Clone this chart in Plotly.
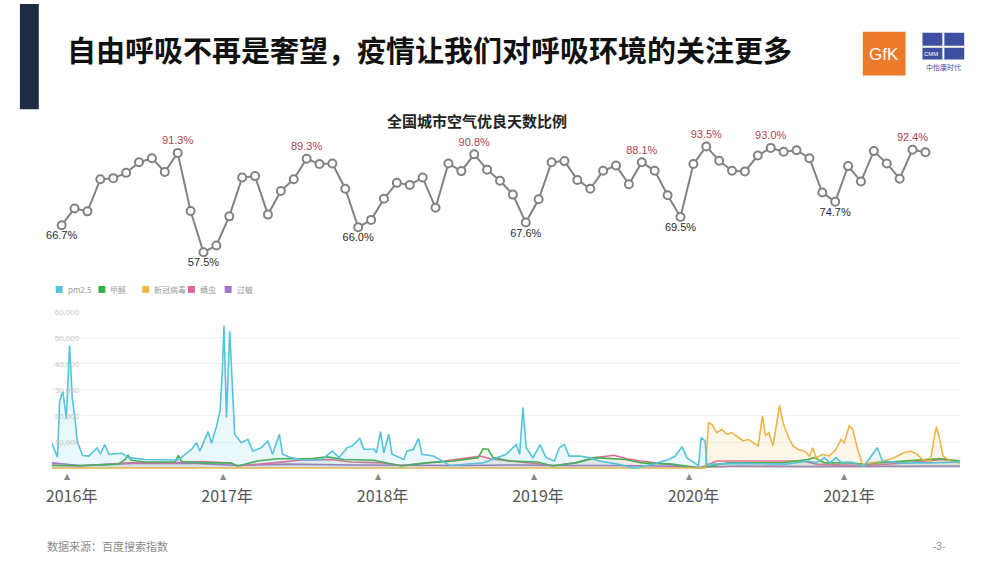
import plotly.graph_objects as go

W, H = 1000, 563

# ---------------- data ----------------
months = [f"{2016 + i // 12}-{i % 12 + 1:02d}" for i in range(68)]
air_quality = [66.7, 72.4, 71.4, 82.3, 82.7, 84.5, 88.1, 89.5, 84.8, 91.3, 71.5, 57.5,
               59.8, 69.7, 82.9, 83.4, 70.3, 78.3, 82.3, 89.3, 87.5, 87.7, 79.1, 66.0,
               68.5, 75.7, 81.1, 80.4, 82.9, 72.6, 87.7, 85.1, 90.8, 85.6, 81.8, 77.1,
               67.6, 75.5, 88.1, 88.5, 82.1, 79.1, 85.2, 87.0, 80.6, 88.1, 85.2, 76.9,
               69.5, 87.5, 93.5, 88.6, 85.2, 85.0, 90.4, 93.0, 91.7, 92.2, 89.5, 77.8,
               74.7, 86.8, 81.6, 91.9, 87.7, 82.5, 92.4, 91.5]
high_idx = [9, 19, 32, 45, 50, 55, 66]
low_idx = [0, 11, 23, 36, 48, 60]

year_ticks = [2016, 2017, 2018, 2019, 2020, 2021]
year_labels = ["2016年", "2017年", "2018年", "2019年", "2020年", "2021年"]

pm25_points = [
    (2015.872, 9700), (2015.909, 4200), (2015.923, 25800), (2015.944, 29400), (2015.966, 18900),
    (2015.987, 47000), (2016.004, 27000), (2016.021, 19400), (2016.036, 10400), (2016.070, 4800),
    (2016.111, 4600), (2016.164, 7800), (2016.185, 5400), (2016.213, 9000), (2016.240, 5300),
    (2016.324, 5700), (2016.366, 4000), (2016.473, 3300), (2016.686, 3100), (2016.772, 7200),
    (2016.804, 9700), (2016.825, 6500), (2016.878, 14000), (2016.900, 9500), (2016.932, 16000),
    (2016.955, 22000), (2016.970, 38000), (2016.980, 54700), (2016.996, 19400), (2017.017, 52500),
    (2017.049, 13000), (2017.091, 9700), (2017.134, 11000), (2017.166, 6500), (2017.219, 7800),
    (2017.262, 10400), (2017.293, 5300), (2017.336, 13000), (2017.357, 5300), (2017.411, 4000),
    (2017.475, 3300), (2017.603, 3000), (2017.677, 6500), (2017.720, 4000), (2017.773, 7800),
    (2017.805, 8500), (2017.854, 11400), (2017.880, 7200), (2017.944, 7200), (2017.961, 5900),
    (2017.987, 14000), (2018.008, 5900), (2018.040, 13000), (2018.061, 5300), (2018.136, 3300),
    (2018.157, 6500), (2018.199, 7200), (2018.231, 11400), (2018.253, 5300), (2018.327, 4600),
    (2018.434, 1000), (2018.647, 2000), (2018.796, 5300), (2018.860, 9100), (2018.882, 5300),
    (2018.903, 23200), (2018.924, 7800), (2018.967, 4000), (2019.013, 8900), (2019.052, 4000),
    (2019.105, 2700), (2019.137, 7800), (2019.169, 9100), (2019.201, 4600), (2019.265, 4600),
    (2019.329, 4000), (2019.393, 2700), (2019.521, 1400), (2019.617, 0), (2019.734, 1400),
    (2019.841, 3300), (2019.883, 4600), (2019.926, 8200), (2019.958, 4000), (2019.990, 2700),
    (2020.033, 800), (2020.049, 11700), (2020.075, 10400), (2020.086, 1400), (2020.300, 1800),
    (2020.600, 1500), (2020.736, 2700), (2020.789, 2000), (2020.842, 4000), (2020.878, 2000),
    (2020.917, 4000), (2020.949, 2200), (2021.013, 2300), (2021.096, 800), (2021.183, 7800),
    (2021.215, 2700), (2021.332, 2000), (2021.524, 2000), (2021.716, 2300),
]

formaldehyde_points = [
    (2015.872, 1000), (2016.090, 1000), (2016.300, 1500), (2016.345, 3300), (2016.363, 4900),
    (2016.384, 3000), (2016.473, 2300), (2016.665, 2300), (2016.686, 4900), (2016.708, 2500),
    (2016.857, 2000), (2017.023, 2000), (2017.068, 800), (2017.196, 2700), (2017.324, 3600),
    (2017.539, 3600), (2017.643, 4300), (2017.752, 3300), (2017.944, 3000), (2018.123, 800),
    (2018.283, 2000), (2018.455, 2700), (2018.615, 4000), (2018.647, 7400), (2018.679, 7200),
    (2018.711, 4000), (2018.818, 2700), (2018.999, 2300), (2019.095, 800), (2019.242, 2000),
    (2019.370, 4000), (2019.561, 3300), (2019.670, 2000), (2019.862, 1500), (2020.041, 0),
    (2020.160, 1400), (2020.224, 2000), (2020.565, 2000), (2020.736, 3300), (2020.778, 4000),
    (2020.840, 2000), (2021.013, 2000), (2021.096, 1400), (2021.183, 2000), (2021.352, 2700),
    (2021.588, 3600), (2021.716, 2700),
]

covid_points = [
    (2015.872, 0), (2020.075, 0), (2020.079, 1400), (2020.097, 17400), (2020.118, 16800),
    (2020.150, 13600), (2020.182, 14900), (2020.214, 13000), (2020.246, 13600), (2020.288, 11700),
    (2020.320, 10400), (2020.352, 11000), (2020.384, 9700), (2020.416, 8500), (2020.444, 20000),
    (2020.463, 12300), (2020.484, 13600), (2020.512, 8500), (2020.554, 24100), (2020.576, 17400),
    (2020.608, 12300), (2020.640, 8500), (2020.672, 7200), (2020.714, 6500), (2020.746, 4600),
    (2020.768, 7800), (2020.789, 4000), (2020.832, 5300), (2020.874, 4600), (2020.917, 7200),
    (2020.949, 11000), (2020.970, 9700), (2021.002, 16200), (2021.024, 14900), (2021.056, 7200),
    (2021.088, 1400), (2021.141, 2000), (2021.226, 2700), (2021.290, 4000), (2021.354, 5900),
    (2021.396, 6500), (2021.439, 5300), (2021.471, 3300), (2021.524, 2700), (2021.546, 11000),
    (2021.563, 15900), (2021.584, 11000), (2021.606, 4600), (2021.652, 2700), (2021.716, 2000),
]

mite_points = [
    (2015.872, 1200), (2016.050, 800), (2016.250, 1500), (2016.364, 2000), (2016.620, 2000),
    (2016.840, 2500), (2017.000, 2000), (2017.070, 900), (2017.300, 2000), (2017.460, 3000),
    (2017.670, 3300), (2017.800, 2300), (2018.000, 2000), (2018.120, 1000), (2018.400, 2700),
    (2018.570, 4000), (2018.630, 4600), (2018.700, 3500), (2018.930, 2000), (2019.100, 1000),
    (2019.240, 2000), (2019.370, 4000), (2019.490, 4900), (2019.570, 3600), (2019.660, 2700),
    (2019.850, 1400), (2020.040, 0), (2020.150, 2700), (2020.700, 2700), (2020.800, 1400),
    (2021.000, 1000), (2021.100, 1000), (2021.370, 2000), (2021.600, 3300), (2021.716, 2300),
]

allergy_points = [
    (2015.872, 2000), (2016.050, 1000), (2016.400, 1800), (2016.800, 1800), (2017.070, 1000),
    (2017.400, 1500), (2017.800, 1200), (2018.120, 1000), (2018.500, 1000), (2018.900, 1200),
    (2019.100, 1000), (2019.500, 1000), (2019.800, 800), (2020.040, 300), (2020.300, 800),
    (2020.700, 600), (2021.000, 600), (2021.300, 700), (2021.716, 800),
]

series = [
    ("过敏", allergy_points, "#a274c4", "rgba(162,116,196,0.08)"),
    ("螨虫", mite_points, "#e26a9c", "rgba(226,106,156,0.08)"),
    ("甲醛", formaldehyde_points, "#45b04a", "rgba(69,176,74,0.06)"),
    ("新冠病毒", covid_points, "#eab54a", "rgba(234,181,74,0.12)"),
    ("pm2.5", pm25_points, "#55c3da", "rgba(85,195,218,0.12)"),
]
legend_order = [("pm2.5", "#55c3da"), ("甲醛", "#2fb24a"), ("新冠病毒", "#f0b840"),
                ("螨虫", "#e8609a"), ("过敏", "#a274c4")]

# ---------------- figure ----------------
def py(p):
    return 1 - p / H

def pxx(p):
    return p / W

fig = go.Figure()

texts, positions, colors = [], [], []
for i, v in enumerate(air_quality):
    if i in high_idx:
        texts.append(f"{v:.1f}%"); positions.append("top center"); colors.append("#b3404a")
    elif i in low_idx:
        texts.append(f"{v:.1f}%"); positions.append("bottom center"); colors.append("#2b2b2b")
    else:
        texts.append(""); positions.append("top center"); colors.append("#2b2b2b")

fig.add_trace(go.Scatter(
    x=months, y=air_quality, mode="lines+markers+text", text=texts,
    textposition=positions, textfont=dict(size=11, color=colors, family="Liberation Sans"),
    line=dict(color="#828282", width=2),
    marker=dict(size=8, color="white", line=dict(color="#828282", width=2)),
    xaxis="x", yaxis="y", showlegend=False, cliponaxis=False, hoverinfo="skip"))

for name, pts, color, fillc in series:
    fig.add_trace(go.Scatter(
        x=[p[0] for p in pts], y=[p[1] for p in pts], mode="lines", name=name,
        line=dict(color=color, width=1.6), fill="tozeroy", fillcolor=fillc,
        xaxis="x2", yaxis="y2", showlegend=False))

shapes = []
annotations = []

def note(text, x, y, size, color, family="Noto Sans CJK SC", xanchor="center", xref="paper", **kw):
    annotations.append(dict(text=text, x=x, y=y, xref=xref, yref="paper", xanchor=xanchor,
                            yanchor="middle", showarrow=False,
                            font=dict(size=size, color=color, family=family), **kw))

# left navy bar
shapes.append(dict(type="rect", xref="paper", yref="paper", x0=pxx(14), x1=pxx(33),
                   y0=py(106), y1=py(0), fillcolor="#1d2b45", line=dict(width=0)))
# GfK logo
shapes.append(dict(type="rect", xref="paper", yref="paper", x0=pxx(862), x1=pxx(905),
                   y0=py(72), y1=py(28), fillcolor="#ec7a2b", line=dict(width=0)))
note("GfK", pxx(883.5), py(51), 17, "white", "Liberation Sans")
# CMM logo
shapes.append(dict(type="rect", xref="paper", yref="paper", x0=pxx(922), x1=pxx(964),
                   y0=py(56), y1=py(29), fillcolor="#3f4f9f", line=dict(width=0)))
shapes.append(dict(type="line", xref="paper", yref="paper", x0=pxx(943), x1=pxx(943),
                   y0=py(56), y1=py(29), line=dict(color="white", width=2)))
shapes.append(dict(type="line", xref="paper", yref="paper", x0=pxx(922), x1=pxx(964),
                   y0=py(43), y1=py(43), line=dict(color="white", width=2)))
note("CMM", pxx(931), py(50), 6, "white", "Liberation Sans")
note("中怡康时代", pxx(943), py(63), 7, "#3f4f9f")

# titles
note("<b>自由呼吸不再是奢望，疫情让我们对呼吸环境的关注更多</b>", pxx(59), py(45), 29,
     "#111111", xanchor="left")
note("<b>全国城市空气优良天数比例</b>", pxx(474), py(117), 15, "#222222")

# legend (manual)
leg_x = [50, 93, 137, 183, 220]
for (name, color), lx in zip(legend_order, leg_x):
    shapes.append(dict(type="rect", xref="paper", yref="paper", x0=pxx(lx), x1=pxx(lx + 7),
                       y0=py(291), y1=py(284), fillcolor=color, line=dict(width=0)))
    note(name, pxx(lx + 10), py(287.5), 8, "#9a9a9a", xanchor="left")

# tick triangles (small markers above the year labels)
for yr in year_ticks:
    annotations.append(dict(text="▲", x=yr, y=py(470), xref="x2", yref="paper",
                            xanchor="center", yanchor="top", xshift=-4, showarrow=False,
                            borderpad=0, font=dict(size=8, color="#8a8a8a", family="DejaVu Sans")))

# footer
note("数据来源：百度搜索指数", pxx(39), py(546), 11, "#8c8c8c", xanchor="left")
note("-3-", pxx(939), py(546), 10, "#8c8c8c", "Liberation Sans")

fig.update_layout(
    width=W, height=H, margin=dict(l=0, r=0, t=0, b=0),
    paper_bgcolor="white", plot_bgcolor="white",
    shapes=shapes, annotations=annotations,
    xaxis=dict(domain=[pxx(46), pxx(960)], range=[-0.771, 69.7], type="category",
               visible=False, anchor="y"),
    yaxis=dict(domain=[py(265), py(130)], range=[52.43, 98.04], visible=False, anchor="x"),
    xaxis2=dict(domain=[pxx(46), pxx(960)], range=[2015.872, 2021.716], anchor="y2",
                tickvals=year_ticks, ticktext=year_labels, showgrid=False, zeroline=False,
                showline=False, ticks="outside", ticklen=11, tickcolor="rgba(0,0,0,0)",
                ticklabeloverflow="allow",
                tickfont=dict(size=16, color="#555555", family="Noto Sans CJK SC")),
    yaxis2=dict(domain=[py(470), py(310)], range=[-1000, 60000], anchor="x2",
                tickvals=[10000, 20000, 30000, 40000, 50000, 60000], tickformat=",",
                ticklabelposition="inside", ticklabeloverflow="allow",
                showgrid=True, gridcolor="#f2f2f2",
                zeroline=False, showline=False,
                tickfont=dict(size=8, color="#c8c8c8", family="Liberation Sans")),
)

fig.write_html("out.html", config={"displayModeBar": False},
               post_script="document.body.style.margin='0';")
